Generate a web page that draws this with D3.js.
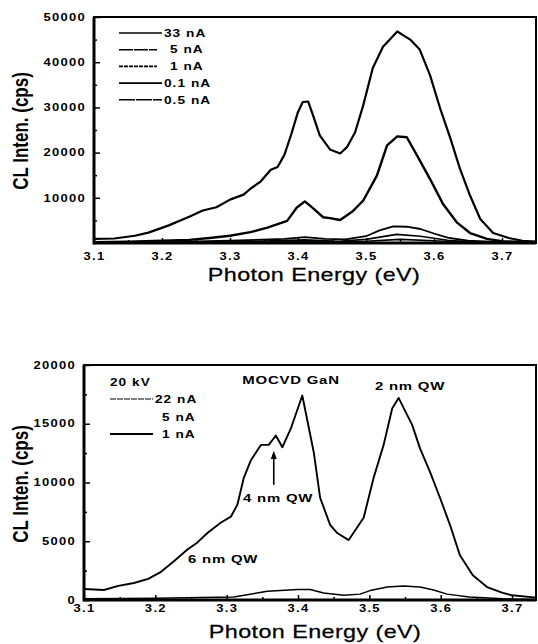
<!DOCTYPE html>
<html>
<head>
<meta charset="UTF-8">
<title>CL spectra</title>
<script src="https://cdn.jsdelivr.net/npm/d3@7/dist/d3.min.js"></script>
<style>
  body { margin: 0; background: #fff; }
  svg { display: block; font-family: "Liberation Sans", Arial, Helvetica, sans-serif; }
</style>
</head>
<body>
<script>
  // ---- top panel data (counts per second vs photon energy in eV) ----
  const top33E = [3.10, 3.13, 3.16, 3.18, 3.21, 3.24, 3.26, 3.28, 3.30, 3.32, 3.33, 3.345, 3.36, 3.37, 3.38, 3.39, 3.40, 3.407, 3.415, 3.422, 3.432, 3.447, 3.462, 3.472, 3.484, 3.496, 3.51, 3.525, 3.546, 3.565, 3.579, 3.594, 3.609, 3.624, 3.638, 3.653, 3.668, 3.687, 3.71, 3.73, 3.75];
  const top33I = [900, 1000, 1600, 2300, 3900, 5800, 7200, 7900, 9600, 10700, 12000, 13600, 16200, 16800, 19500, 24000, 29000, 31200, 31300, 28300, 23800, 20700, 19800, 21200, 24500, 30500, 38700, 43400, 46800, 45000, 42800, 37200, 29800, 23200, 16500, 10500, 5300, 2200, 1100, 500, 300];

  const top5E = [3.10, 3.15, 3.20, 3.24, 3.27, 3.30, 3.33, 3.355, 3.384, 3.398, 3.41, 3.422, 3.437, 3.447, 3.462, 3.481, 3.496, 3.516, 3.531, 3.546, 3.56, 3.575, 3.594, 3.613, 3.634, 3.653, 3.678, 3.70, 3.75];
  const top5I = [200, 300, 500, 700, 1100, 1600, 2400, 3400, 4900, 7800, 9200, 7700, 5700, 5500, 5100, 7100, 9400, 14900, 21600, 23600, 23400, 19400, 14200, 8700, 4500, 2200, 900, 400, 200];

  const top1E = [3.10, 3.20, 3.30, 3.38, 3.41, 3.44, 3.47, 3.50, 3.52, 3.54, 3.56, 3.58, 3.60, 3.62, 3.65, 3.70, 3.75];
  const top1I = [100, 200, 500, 900, 1300, 900, 800, 1500, 2800, 3700, 3600, 3100, 2100, 1200, 500, 200, 100];

  const top05E = [3.10, 3.30, 3.41, 3.46, 3.50, 3.545, 3.58, 3.62, 3.66, 3.75];
  const top05I = [50, 250, 700, 400, 800, 1900, 1500, 600, 200, 50];

  const top01E = [3.10, 3.30, 3.41, 3.46, 3.50, 3.55, 3.60, 3.65, 3.75];
  const top01I = [30, 100, 350, 250, 400, 800, 500, 150, 30];

  const topLegend = ["33 nA", "5 nA", "1 nA", "0.1 nA", "0.5 nA"];
  const topYTicks = [10000, 20000, 30000, 40000, 50000];

  // ---- bottom panel data ----
  const bot22E = [3.10, 3.128, 3.148, 3.17, 3.19, 3.208, 3.226, 3.245, 3.259, 3.273, 3.292, 3.306, 3.315, 3.324, 3.334, 3.348, 3.359, 3.369, 3.378, 3.39, 3.406, 3.422, 3.431, 3.445, 3.455, 3.471, 3.492, 3.506, 3.52, 3.532, 3.541, 3.56, 3.571, 3.585, 3.599, 3.613, 3.627, 3.645, 3.665, 3.687, 3.70, 3.734];
  const bot22I = [940, 850, 1200, 1450, 1800, 2400, 3300, 4300, 4900, 5700, 6600, 7100, 8100, 10400, 11900, 13200, 13200, 14000, 13000, 14600, 17400, 12600, 8700, 6400, 5700, 5100, 7000, 10400, 13200, 16300, 17200, 14900, 12900, 10900, 8700, 6400, 3800, 2100, 1100, 600, 400, 200];

  const bot1E = [3.10, 3.20, 3.31, 3.357, 3.40, 3.417, 3.436, 3.464, 3.487, 3.501, 3.525, 3.548, 3.571, 3.59, 3.609, 3.64, 3.687, 3.734];
  const bot1I = [100, 150, 250, 750, 900, 900, 600, 400, 500, 800, 1100, 1200, 1100, 850, 500, 250, 100, 50];

  const botLegend = ["22 nA", "5 nA", "1 nA"];
  const botYTicks = [0, 5000, 10000, 15000, 20000];

  const xTicks = [3.1, 3.2, 3.3, 3.4, 3.5, 3.6, 3.7];
  const xMinor = [3.15, 3.25, 3.35, 3.45, 3.55, 3.65];

  // the scan is stretched sideways, so text gets squeezed the same way
  const SX = 1.3;

  const svg = d3.select("body").append("svg")
    .attr("width", 538)
    .attr("height", 644);

  function zip(es, is) {
    return es.map((e, i) => [e, is[i]]);
  }

  function drawPanel(p) {
    const x = d3.scaleLinear().domain(p.xDomain).range([p.left, p.right]);
    const y = d3.scaleLinear().domain(p.yDomain).range([p.bottom, p.top]);
    const g = svg.append("g");

    // frame
    g.append("rect")
      .attr("x", p.left).attr("y", p.top)
      .attr("width", p.right - p.left).attr("height", p.bottom - p.top)
      .attr("fill", "none").attr("stroke", "#000").attr("stroke-width", 2);

    // y axis, major + minor ticks pointing inwards
    const yAx = g.append("g")
      .attr("transform", "translate(" + p.left + ",0)")
      .call(d3.axisLeft(y).tickValues(p.yTicks).tickSize(-6).tickPadding(7).tickFormat(d3.format("d")));
    yAx.select(".domain").remove();
    yAx.selectAll("text")
      .attr("transform", "scale(" + SX + ",1)")
      .attr("x", -8 / SX)
      .attr("dx", 0)
      .style("font-size", "10px").style("font-weight", "bold").style("letter-spacing", "1px");
    yAx.selectAll("line").attr("stroke-width", 1.5);

    const yMin = g.append("g")
      .attr("transform", "translate(" + p.left + ",0)")
      .call(d3.axisLeft(y).tickValues(p.yMinor).tickSize(-3).tickFormat(""));
    yMin.select(".domain").remove();
    yMin.selectAll("line").attr("stroke-width", 1.5);

    // x axis
    const xAx = g.append("g")
      .attr("transform", "translate(0," + p.bottom + ")")
      .call(d3.axisBottom(x).tickValues(xTicks).tickSize(-5).tickPadding(p.xPad).tickFormat(d3.format(".1f")));
    xAx.select(".domain").remove();
    xAx.selectAll("text")
      .attr("transform", "scale(" + SX + ",1)")
      .style("font-size", "10px").style("font-weight", "bold").style("letter-spacing", "1px");
    xAx.selectAll("line").attr("stroke-width", 1.5);

    const xMin = g.append("g")
      .attr("transform", "translate(0," + p.bottom + ")")
      .call(d3.axisBottom(x).tickValues(xMinor).tickSize(-3).tickFormat(""));
    xMin.select(".domain").remove();
    xMin.selectAll("line").attr("stroke-width", 1.5);

    // heavy left and bottom axis lines
    g.append("line")
      .attr("x1", p.left).attr("x2", p.left).attr("y1", p.top).attr("y2", p.bottom + 1.5)
      .attr("stroke", "#000").attr("stroke-width", 3);
    g.append("line")
      .attr("x1", p.left).attr("x2", p.right).attr("y1", p.bottom).attr("y2", p.bottom)
      .attr("stroke", "#000").attr("stroke-width", 3);

    // curves
    const line = d3.line()
      .x(d => x(d[0]))
      .y(d => y(d[1]));
    p.series.forEach(s => {
      g.append("path")
        .datum(s.pts)
        .attr("d", line)
        .attr("fill", "none")
        .attr("stroke", "#000")
        .attr("stroke-width", s.w)
        .attr("stroke-linejoin", "round");
    });

    // axis titles
    g.append("text")
      .attr("transform", "translate(" + p.xTitle[0] + "," + p.xTitle[1] + ") scale(" + SX + ",1)")
      .attr("text-anchor", "middle")
      .attr("stroke", "#000").attr("stroke-width", 0.25)
      .style("font-size", "18px")
      .style("letter-spacing", "0.3px")
      .text("Photon Energy (eV)");

    g.append("text")
      .attr("transform", "translate(" + p.yTitle[0] + "," + p.yTitle[1] + ") scale(" + SX + ",1) rotate(-90)")
      .attr("text-anchor", "middle")
      .style("font-size", "17px").style("font-weight", "bold")
      .text("CL Inten. (cps)");

    return { x: x, y: y, g: g };
  }

  const topP = drawPanel({
    left: 94, right: 536, top: 17, bottom: 243,
    xDomain: [3.1, 3.75], yDomain: [0, 50000],
    yTicks: topYTicks, yMinor: [5000, 15000, 25000, 35000, 45000],
    xPad: 9.5,
    xTitle: [314, 281], yTitle: [28, 131],
    series: [
      { pts: zip(top33E, top33I), w: 2.2 },
      { pts: zip(top5E, top5I), w: 2.4 },
      { pts: zip(top1E, top1I), w: 1.8 },
      { pts: zip(top05E, top05I), w: 1.6 },
      { pts: zip(top01E, top01I), w: 1.6 }
    ]
  });

  const botP = drawPanel({
    left: 84, right: 536, top: 365, bottom: 600,
    xDomain: [3.1, 3.7336], yDomain: [0, 20000],
    yTicks: botYTicks, yMinor: [2500, 7500, 12500, 17500],
    xPad: 4.5,
    xTitle: [315, 638], yTitle: [28, 484],
    series: [
      { pts: zip(bot22E, bot22I), w: 1.9 },
      { pts: zip(bot1E, bot1I), w: 1.5 }
    ]
  });

  // ---- legends ----
  function legendText(g, label, tx, ty, size) {
    g.append("text")
      .attr("transform", "translate(" + tx + "," + ty + ") scale(" + SX + ",1)")
      .style("font-size", size + "px").style("font-weight", "bold").style("letter-spacing", "0.8px")
      .text(label);
  }

  const topDash = [null, "14,1", "4,1", null, "16,1"];
  topLegend.forEach((lab, i) => {
    const ly = 33 + i * 16.7;
    const short = lab.length < 5;
    topP.g.append("line")
      .attr("x1", 119).attr("x2", short ? 157 : 162)
      .attr("y1", ly).attr("y2", ly)
      .attr("stroke", "#000").attr("stroke-width", 1.6)
      .attr("stroke-dasharray", topDash[i]);
    legendText(topP.g, lab, short ? 170 : 164, ly + 3.7, 10.5);
  });

  legendText(botP.g, "20 kV", 110, 386, 10.5);
  const botLegY = [399, 417, 434];
  botLegend.forEach((lab, i) => {
    if (lab !== "5 nA") {
      botP.g.append("line")
        .attr("x1", 110).attr("x2", 153)
        .attr("y1", botLegY[i]).attr("y2", botLegY[i])
        .attr("stroke", "#000").attr("stroke-width", i === 0 ? 1.2 : 1.8)
        .attr("stroke-dasharray", i === 0 ? "6,1" : null);
    }
    legendText(botP.g, lab, i === 0 ? 155 : 162, botLegY[i] + 4, 10.5);
  });

  // ---- peak labels in the lower panel ----
  function note(label, tx, ty, anchor) {
    botP.g.append("text")
      .attr("transform", "translate(" + tx + "," + ty + ") scale(" + SX + ",1)")
      .attr("text-anchor", anchor)
      .style("font-size", "11.5px").style("font-weight", "bold").style("letter-spacing", "0.6px")
      .text(label);
  }
  note("MOCVD GaN", 291, 384, "middle");
  note("2 nm QW", 410, 390, "middle");
  note("4 nm QW", 243, 502, "start");
  note("6 nm QW", 188, 563, "start");

  // arrow to the 4 nm QW shoulder
  const ax = botP.x(3.366);
  botP.g.append("line")
    .attr("x1", ax).attr("x2", ax)
    .attr("y1", botP.y(9800)).attr("y2", botP.y(12000))
    .attr("stroke", "#000").attr("stroke-width", 1.6);
  botP.g.append("path")
    .attr("d", d3.line()([[ax - 3, botP.y(12000)], [ax, botP.y(12700)], [ax + 3, botP.y(12000)]]) + "Z")
    .attr("fill", "#000");
</script>
</body>
</html>
